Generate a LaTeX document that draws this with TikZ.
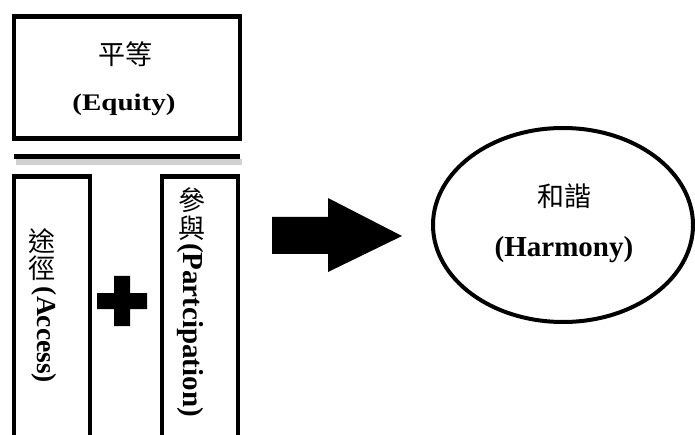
\documentclass[tikz,border=0pt]{standalone}
\usepackage{fontspec}
\setmainfont{Liberation Serif}
\newfontfamily\cjk{Noto Sans CJK TC}
\begin{document}
\begin{tikzpicture}[x=1pt,y=-1pt,
  frame/.style={draw=black,line width=4.5pt},
  hanzi/.style={font=\cjk\fontsize{27}{29}\selectfont,inner sep=0pt},
  latin/.style={font=\bfseries\fontsize{29}{31}\selectfont,inner sep=0pt},
  solid shape/.style={fill=black}]
  \useasboundingbox (0,0) rectangle (695,435);
  \clip (0,0) rectangle (695,435);

  % top box: equity
  \draw[frame] (14,16.5) rectangle (240,138.5);
  \node[hanzi] (eqzh) at (125,54) {平等};
  \node[latin,anchor=base] (eqen) at (124,111) {\scalebox{1}[0.82]{(Equity)}};

  % dividing bar with soft shadow
  \fill[black!18] (16,159) rectangle (242,165);
  \fill[black] (14,154) rectangle (240,159);

  % tall boxes, running off the lower edge
  \draw[frame] (14,176.5) rectangle (90,450);
  \draw[frame] (162,176.5) rectangle (238,450);

  % access column
  \node[hanzi] (ac1) at (42,241) {途};
  \node[hanzi] (ac2) at (42,268) {徑};
  \node[latin,rotate=-90,font=\bfseries\fontsize{27.5}{29}\selectfont] (acen) at (44,335) {(Access)};

  % participation column
  \node[hanzi] (pa1) at (192,200) {參};
  \node[hanzi] (pa2) at (192,228) {與};
  \node[latin,rotate=-90] (paen) at (190,330) {(Partcipation)};

  % plus sign
  \fill[solid shape] (114,276) -- (130,276) -- (130,293) -- (147,293) -- (147,309)
    -- (130,309) -- (130,326) -- (114,326) -- (114,309) -- (97,309) -- (97,293)
    -- (114,293) -- cycle;

  % block arrow
  \fill[solid shape] (272,217) -- (328,217) -- (328,198) -- (402,236) -- (328,272)
    -- (328,254) -- (272,254) -- cycle;

  % harmony ellipse
  \draw[line width=4pt] (563,225) ellipse [x radius=130, y radius=97];
  \node[hanzi] (hmzh) at (564,196) {和諧};
  \node[latin,anchor=base] (hmen) at (564,257) {(Harmony)};
\end{tikzpicture}
\end{document}
